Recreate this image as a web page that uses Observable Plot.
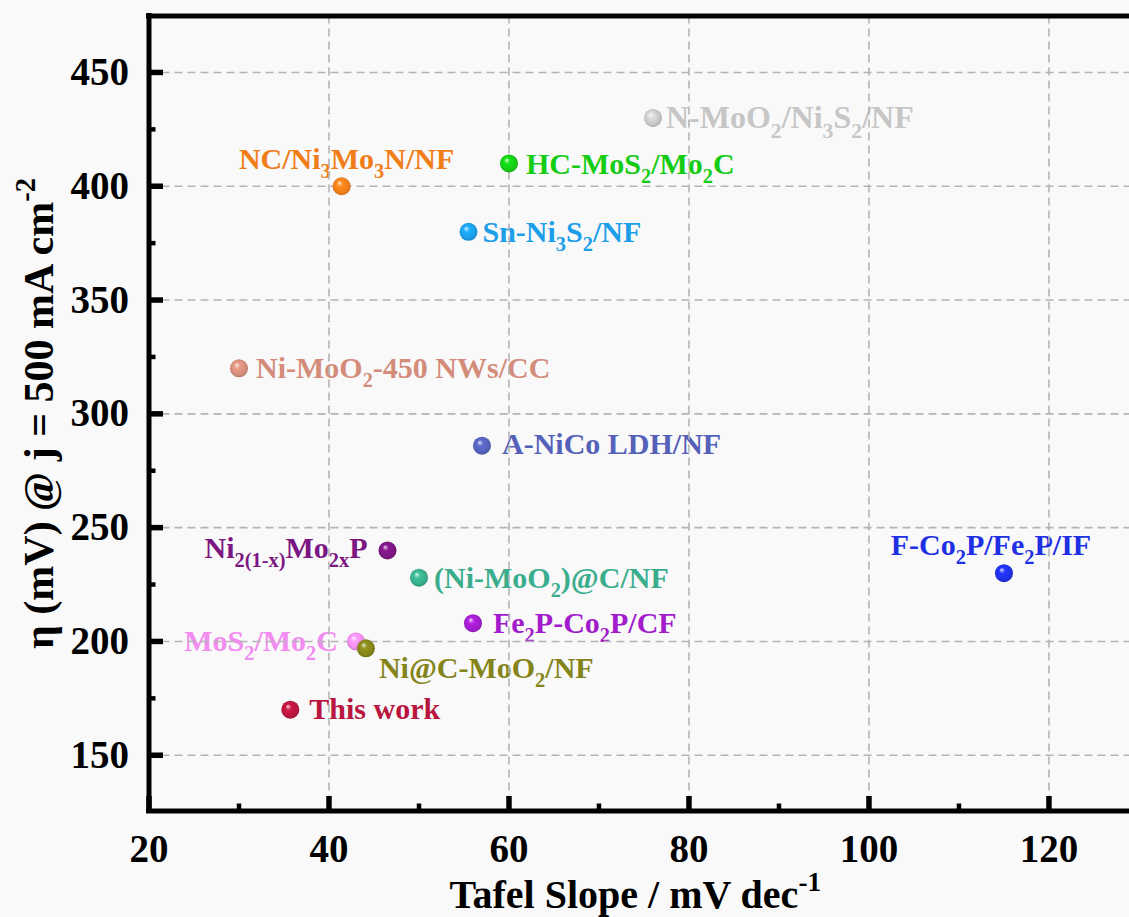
<!DOCTYPE html>
<html>
<head>
<meta charset="utf-8">
<script src="https://cdn.jsdelivr.net/npm/d3@7"></script>
<script src="https://cdn.jsdelivr.net/npm/@observablehq/plot@0.6"></script>
<style>
  html, body { margin: 0; padding: 0; background: #f9f9f9; }
  #chart { width: 1129px; height: 917px; }
</style>
</head>
<body>
<div id="chart"></div>
<script>
// Catalysts compared: Tafel slope (mV dec-1) vs overpotential at 500 mA cm-2 (mV).
// "_{..}" marks a subscript, "^{..}" a superscript.
const catalysts = [
  "NC/Ni_{3}Mo_{3}N/NF",
  "N-MoO_{2}/Ni_{3}S_{2}/NF",
  "HC-MoS_{2}/Mo_{2}C",
  "Sn-Ni_{3}S_{2}/NF",
  "Ni-MoO_{2}-450 NWs/CC",
  "A-NiCo LDH/NF",
  "Ni_{2(1-x)}Mo_{2x}P",
  "(Ni-MoO_{2})@C/NF",
  "F-Co_{2}P/Fe_{2}P/IF",
  "Fe_{2}P-Co_{2}P/CF",
  "MoS_{2}/Mo_{2}C",
  "Ni@C-MoO_{2}/NF",
  "This work"
];
const tafelSlope = [41.4, 76, 60, 55.5, 30, 57, 46.5, 50, 115, 56, 43, 44.1, 35.7];
const overpotential = [400, 430, 410, 380, 320, 286, 240, 228, 230, 208, 200, 197, 170];

const xTicks = [20, 40, 60, 80, 100, 120];
const xMinorTicks = [30, 50, 70, 90, 110];
const yTicks = [150, 200, 250, 300, 350, 400, 450];
const yMinorTicks = [175, 225, 275, 325, 375, 425];

const xTitle = "Tafel Slope / mV dec^{-1}";
const yTitle = "η (mV) @ j = 500 mA cm^{-2}";

// Styling
const palette = [
  "#f07d18", "#c6c6c6", "#14cc14", "#1c9ee8", "#d48c7a", "#5561b8", "#7c1682",
  "#3aad8c", "#1f30e4", "#a21ccc", "#f28cf0", "#84841a", "#b8163e"
];
// label placement relative to each point (pixels) and font size
const placement = [
  {anchor: "middle", dx: 5, dy: -17, size: 30},
  {anchor: "start", dx: 13, dy: 10, size: 32},
  {anchor: "start", dx: 17, dy: 11, size: 30},
  {anchor: "start", dx: 14, dy: 10, size: 30},
  {anchor: "start", dx: 17, dy: 10, size: 30},
  {anchor: "start", dx: 20, dy: 8, size: 30},
  {anchor: "end", dx: -20, dy: 8, size: 30},
  {anchor: "start", dx: 15, dy: 10, size: 30},
  {anchor: "middle", dx: -13, dy: -18, size: 30},
  {anchor: "start", dx: 20, dy: 10, size: 30},
  {anchor: "end", dx: -18, dy: 10, size: 30},
  {anchor: "start", dx: 13, dy: 30, size: 30},
  {anchor: "start", dx: 19, dy: 9, size: 30}
];

const X_DOMAIN = [20, 128.95];
const Y_DOMAIN = [125.5, 474.8];
const FONT = "'Liberation Serif', 'Times New Roman', serif";
const idx = d3.range(catalysts.length);

const labelMarks = idx.map(i => Plot.text([i], {
  x: j => tafelSlope[j],
  y: j => overpotential[j],
  text: j => catalysts[j],
  textAnchor: placement[i].anchor,
  lineAnchor: "bottom",
  dx: placement[i].dx,
  dy: placement[i].dy,
  fill: palette[i],
  fontSize: placement[i].size,
  fontWeight: "bold"
}));

const plot = Plot.plot({
  width: 1129,
  height: 917,
  marginLeft: 148.5,
  marginRight: 0,
  marginTop: 15.5,
  marginBottom: 106.5,
  style: {fontFamily: FONT, background: "transparent", overflow: "visible"},
  x: {domain: X_DOMAIN, axis: null, label: null},
  y: {domain: Y_DOMAIN, axis: null, label: null},
  color: {type: "identity"},
  marks: [
    ...labelMarks,
    Plot.gridX(xTicks.slice(1), {stroke: "#b4b4b4", strokeOpacity: 1, strokeWidth: 1.6, strokeDasharray: "8,5"}),
    Plot.gridY(yTicks, {stroke: "#b4b4b4", strokeOpacity: 1, strokeWidth: 1.6, strokeDasharray: "8,5"}),
    Plot.dot(idx, {
      x: i => tafelSlope[i],
      y: i => overpotential[i],
      r: 9,
      fill: i => `url(#sphere-${i})`
    }),
    // frame: left, bottom and top
    Plot.ruleY([Y_DOMAIN[0], Y_DOMAIN[1]], {stroke: "black", strokeWidth: 5, strokeLinecap: "square"}),
    Plot.ruleX([X_DOMAIN[0]], {stroke: "black", strokeWidth: 5, strokeLinecap: "square"}),
    // inward ticks
    Plot.axisX({ticks: xTicks, tickSize: -14.5, strokeWidth: 5.5, tickFormat: () => "", label: null}),
    Plot.axisX({ticks: xMinorTicks, tickSize: -7, strokeWidth: 4.5, tickFormat: () => "", label: null}),
    Plot.axisY({ticks: yTicks, tickSize: -14.5, strokeWidth: 5.5, tickFormat: () => "", label: null}),
    Plot.axisY({ticks: yMinorTicks, tickSize: -7, strokeWidth: 4.5, tickFormat: () => "", label: null}),
    // tick labels
    Plot.axisX({ticks: xTicks, tickSize: 0, tickPadding: 23, lineAnchor: "top", fontSize: 39, fontWeight: "bold", tickFormat: d => String(d), label: null}),
    Plot.axisY({ticks: yTicks, tickSize: 0, tickPadding: 20, fontSize: 39, fontWeight: "bold", tickFormat: d => String(d), label: null}),
    // axis titles
    Plot.text([xTitle], {text: d => d, frameAnchor: "bottom", textAnchor: "middle", dx: -4, dy: 97, lineAnchor: "bottom", fontSize: 40, fontWeight: "bold", fill: "black"}),
    Plot.text([yTitle], {text: d => d, frameAnchor: "left", textAnchor: "middle", rotate: -90, dx: -96.5, lineAnchor: "bottom", fontSize: 42, fontWeight: "bold", fill: "black"})
  ]
});

// Shaded sphere fills for the markers
const defs = d3.select(plot).insert("defs", ":first-child");
palette.forEach((c, i) => {
  const base = d3.color(c);
  const g = defs.append("radialGradient")
    .attr("id", `sphere-${i}`)
    .attr("cx", "0.5").attr("cy", "0.5").attr("r", "0.55")
    .attr("fx", "0.36").attr("fy", "0.3");
  g.append("stop").attr("offset", "0").attr("stop-color", d3.interpolateRgb(c, "#ffffff")(0.85));
  g.append("stop").attr("offset", "0.3").attr("stop-color", base.brighter(0.3).formatHex());
  g.append("stop").attr("offset", "0.75").attr("stop-color", base.formatHex());
  g.append("stop").attr("offset", "1").attr("stop-color", base.darker(0.6).formatHex());
});

// Turn "_{..}" / "^{..}" markup into sub/superscript tspans
function richText(el) {
  const src = el.textContent;
  if (!/[_^]\{/.test(src)) return;
  const holder = el.closest("[font-size]");
  const size = holder ? parseFloat(holder.getAttribute("font-size")) : 30;
  el.textContent = "";
  const re = /([_^])\{([^}]*)\}/g;
  let last = 0, shift = 0, m;
  const add = (str, offset, small) => {
    const t = document.createElementNS("http://www.w3.org/2000/svg", "tspan");
    t.textContent = str;
    if (offset !== shift) t.setAttribute("dy", offset - shift);
    if (small) t.setAttribute("font-size", size * 0.68);
    shift = offset;
    el.appendChild(t);
  };
  while ((m = re.exec(src))) {
    if (m.index > last) add(src.slice(last, m.index), 0, false);
    add(m[2], m[1] === "_" ? size * 0.3 : -size * 0.42, true);
    last = re.lastIndex;
  }
  if (last < src.length) add(src.slice(last), 0, false);
}
plot.querySelectorAll("text").forEach(richText);

document.getElementById("chart").appendChild(plot);
</script>
</body>
</html>
